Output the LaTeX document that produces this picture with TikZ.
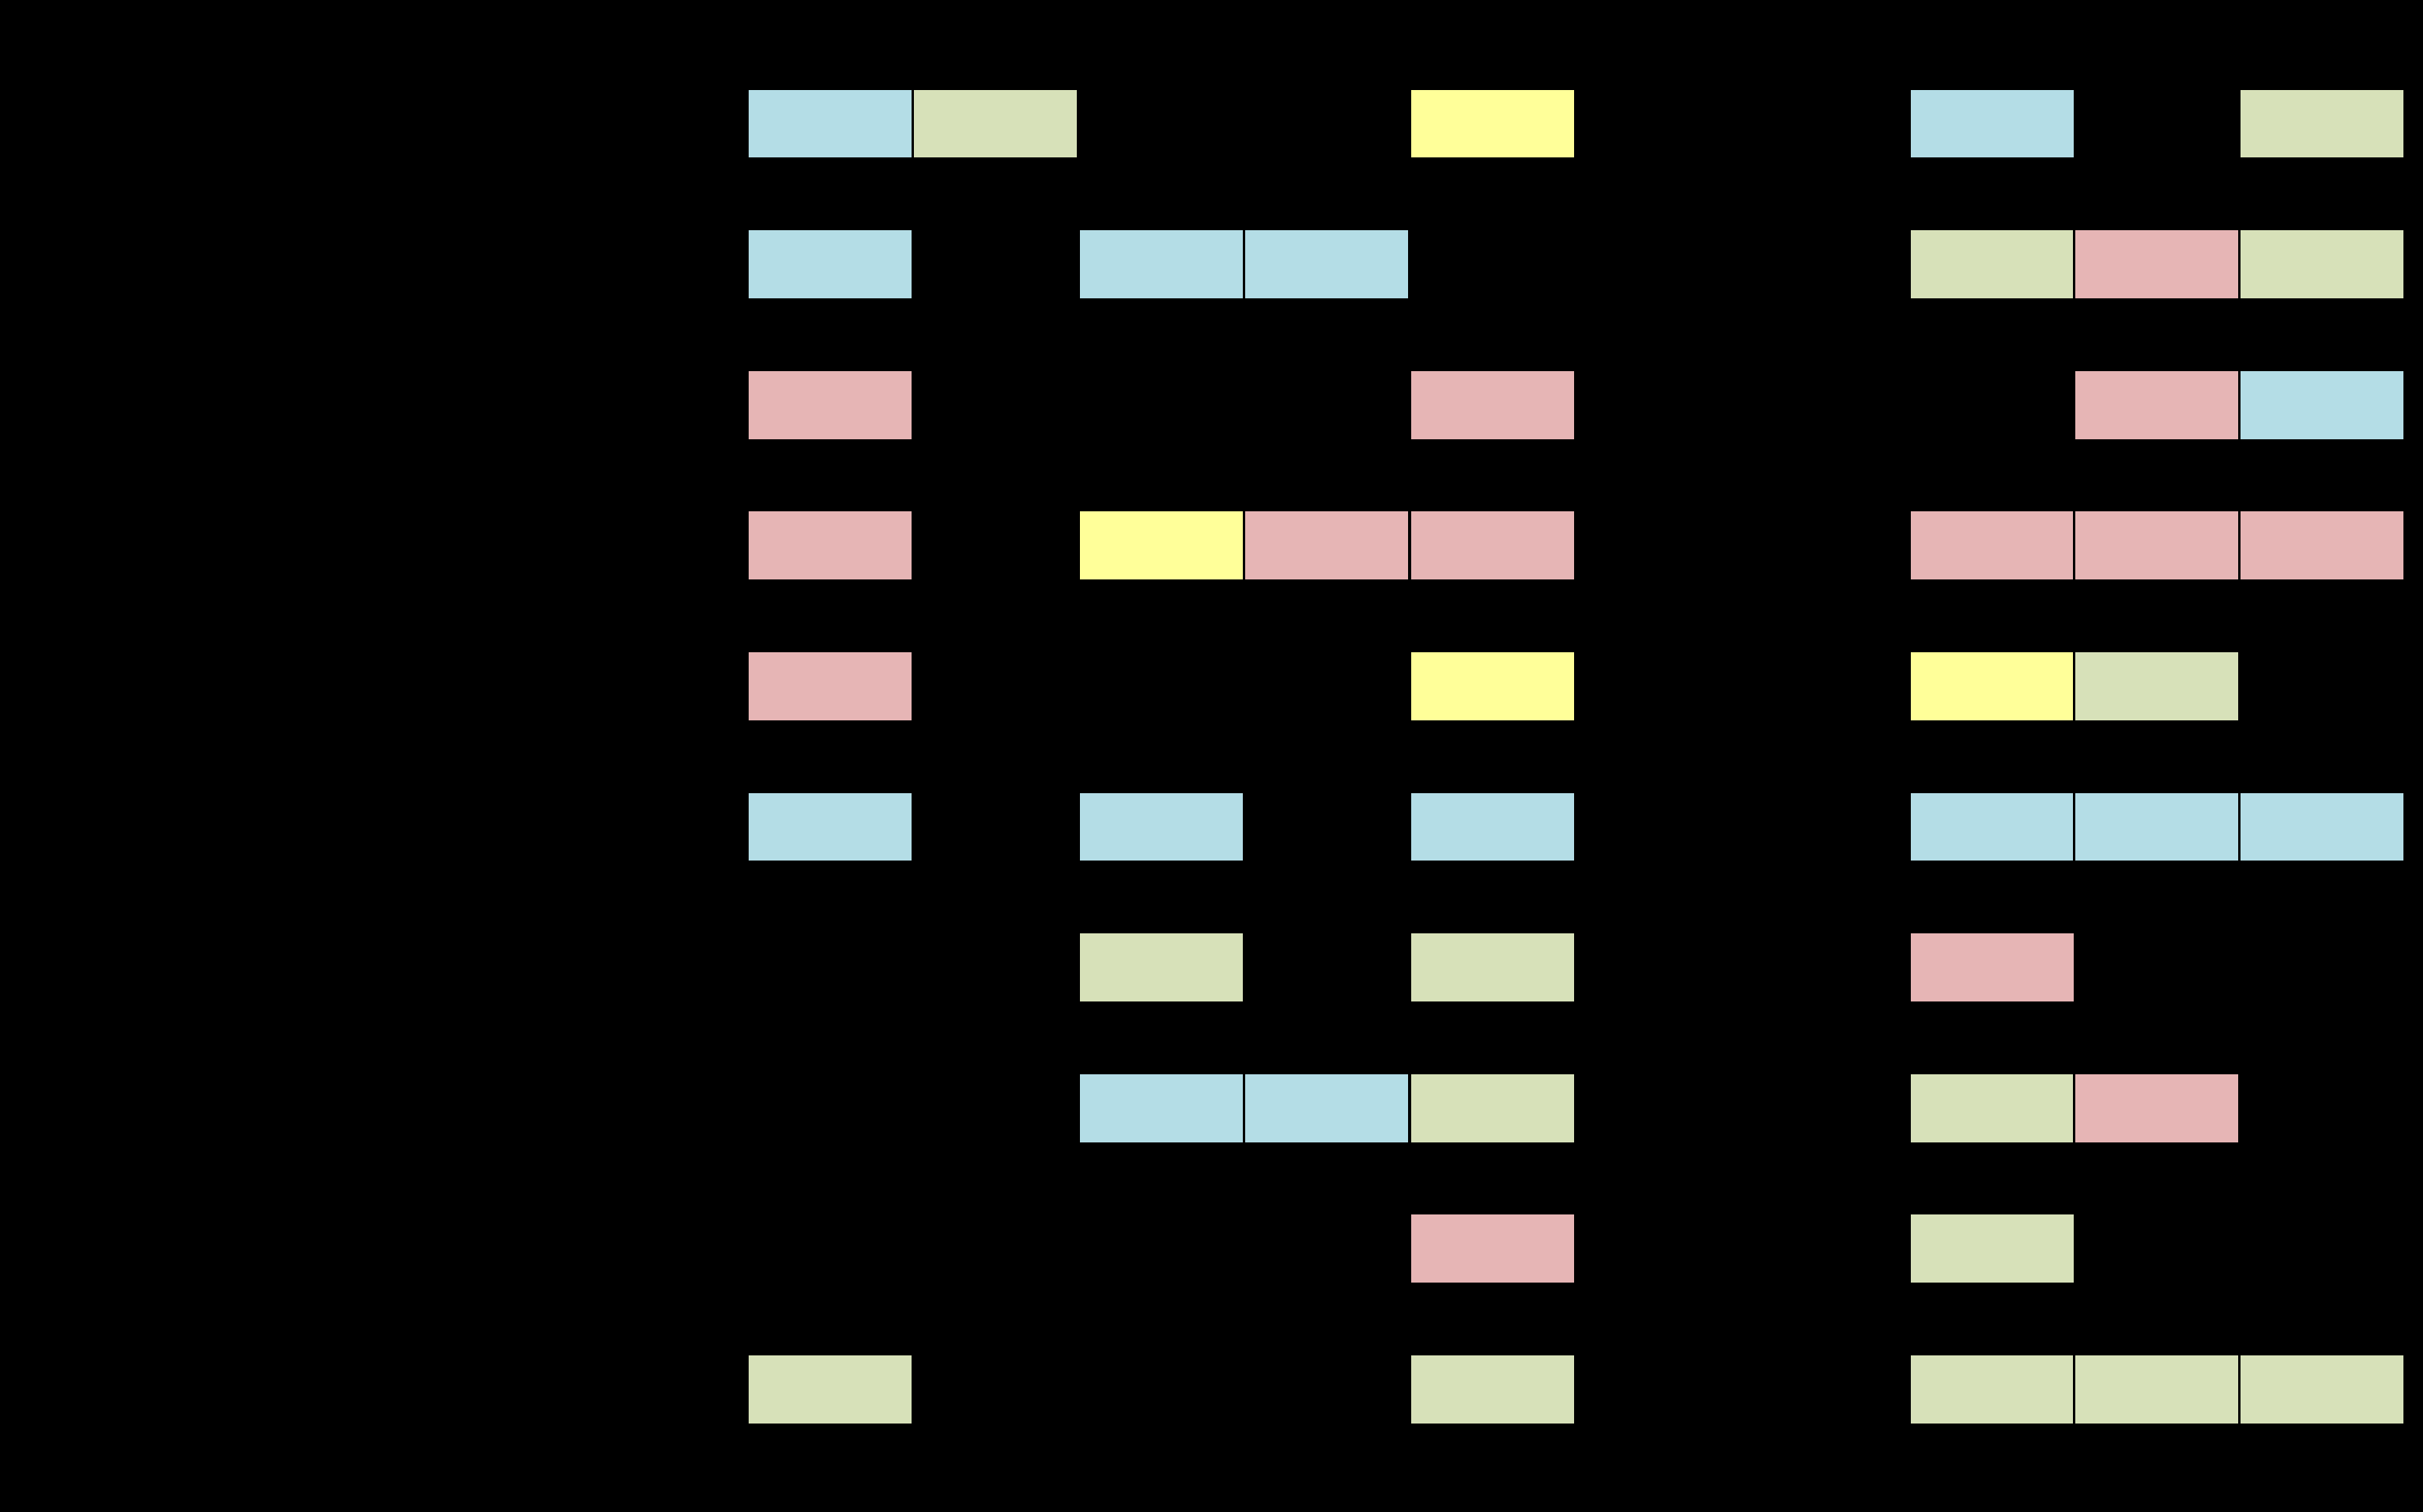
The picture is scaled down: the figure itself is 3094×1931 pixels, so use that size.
\documentclass[tikz,border=0pt]{standalone}
\definecolor{cblue}{HTML}{B4DDE6}
\definecolor{cgreen}{HTML}{D7E1B9}
\definecolor{cred}{HTML}{E6B5B5}
\definecolor{cyel}{HTML}{FFFF99}
\tikzset{
  cell/.style={draw=black, line width=0.9pt, rectangle, inner sep=0pt, outer sep=0pt,
    minimum width=2.11cm, minimum height=0.9cm, anchor=north west}
}
\begin{document}
\begin{tikzpicture}[x=0.01cm,y=-0.01cm]
\fill[black] (0,0) rectangle (3094,1931);
\useasboundingbox (0,0) rectangle (3094,1931);
\foreach \r/\c/\col in {
 1/0/cblue, 1/1/cgreen, 1/4/cyel, 1/5/cblue, 1/7/cgreen,
 2/0/cblue, 2/2/cblue, 2/3/cblue, 2/5/cgreen, 2/6/cred, 2/7/cgreen,
 3/0/cred, 3/4/cred, 3/6/cred, 3/7/cblue,
 4/0/cred, 4/2/cyel, 4/3/cred, 4/4/cred, 4/5/cred, 4/6/cred, 4/7/cred,
 5/0/cred, 5/4/cyel, 5/5/cyel, 5/6/cgreen,
 6/0/cblue, 6/2/cblue, 6/4/cblue, 6/5/cblue, 6/6/cblue, 6/7/cblue,
 7/2/cgreen, 7/4/cgreen, 7/5/cred,
 8/2/cblue, 8/3/cblue, 8/4/cgreen, 8/5/cgreen, 8/6/cred,
 9/4/cred, 9/5/cgreen,
 10/0/cgreen, 10/4/cgreen, 10/5/cgreen, 10/6/cgreen, 10/7/cgreen}
{
  \pgfmathsetmacro{\yy}{113+179.6*(\r-1)}
  \pgfmathsetmacro{\xx}{\c<5 ? 954+211.6*\c : 2438+210.6*(\c-5)}
  \node[cell, fill=\col] (r\r c\c) at (\xx,\yy) {};
}
\end{tikzpicture}
\end{document}
